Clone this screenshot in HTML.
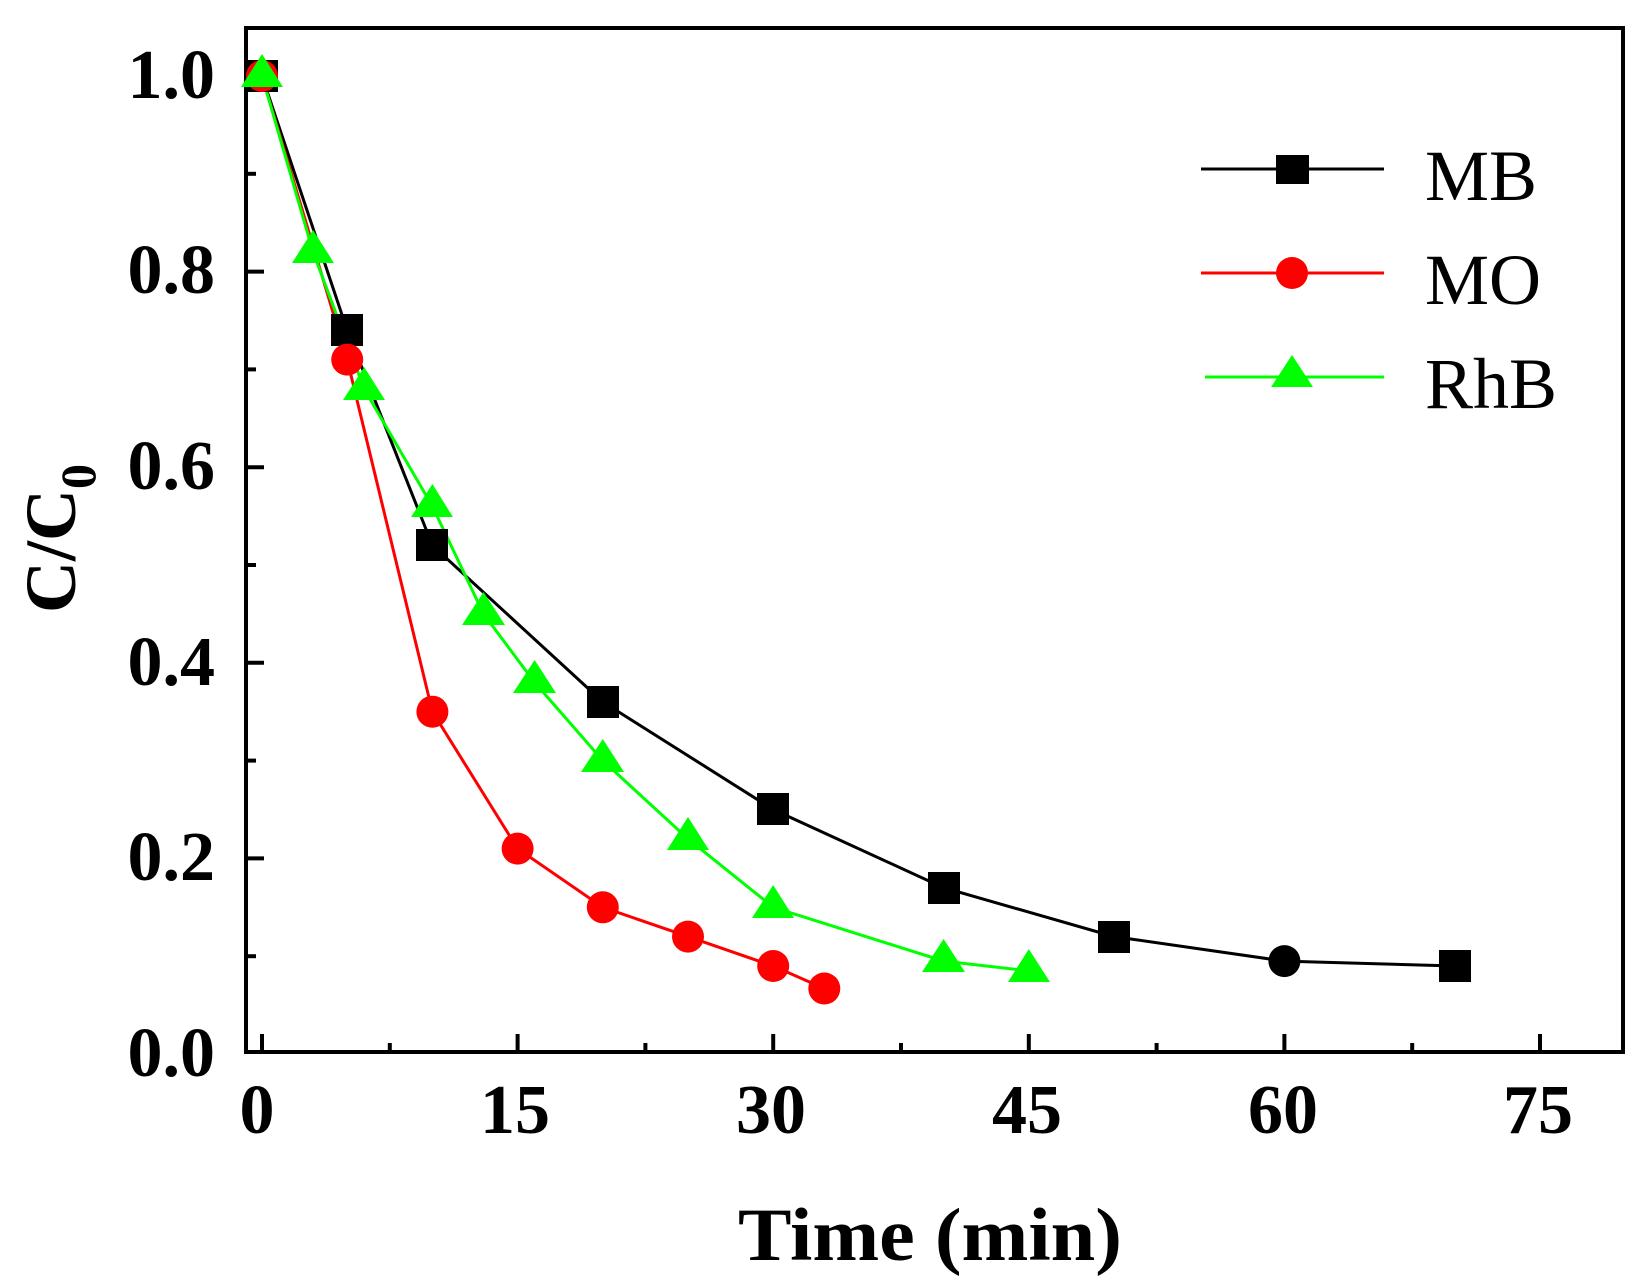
<!DOCTYPE html>
<html><head><meta charset="utf-8"><style>html,body{margin:0;padding:0;background:#fff;}svg{display:block}</style></head>
<body>
<svg width="1643" height="1288" viewBox="0 0 1643 1288" xmlns="http://www.w3.org/2000/svg">
<rect x="0" y="0" width="1643" height="1288" fill="#fff"/>
<rect x="246" y="28" width="1377" height="1024" fill="none" stroke="#000" stroke-width="4"/>
<g stroke="#000" stroke-width="4">
<line x1="262" y1="1052" x2="262" y2="1034"/><line x1="389.8" y1="1052" x2="389.8" y2="1043"/>
<line x1="517.6" y1="1052" x2="517.6" y2="1034"/><line x1="645.4" y1="1052" x2="645.4" y2="1043"/>
<line x1="773.2" y1="1052" x2="773.2" y2="1034"/><line x1="901" y1="1052" x2="901" y2="1043"/>
<line x1="1028.8" y1="1052" x2="1028.8" y2="1034"/><line x1="1156.6" y1="1052" x2="1156.6" y2="1043"/>
<line x1="1284.4" y1="1052" x2="1284.4" y2="1034"/><line x1="1412.2" y1="1052" x2="1412.2" y2="1043"/>
<line x1="1540" y1="1052" x2="1540" y2="1034"/>
<line x1="246" y1="858.4" x2="264" y2="858.4"/><line x1="246" y1="662.8" x2="264" y2="662.8"/>
<line x1="246" y1="467.2" x2="264" y2="467.2"/><line x1="246" y1="271.6" x2="264" y2="271.6"/>
<line x1="246" y1="76" x2="264" y2="76"/>
<line x1="246" y1="956.2" x2="256" y2="956.2"/><line x1="246" y1="760.6" x2="256" y2="760.6"/>
<line x1="246" y1="565" x2="256" y2="565"/><line x1="246" y1="369.4" x2="256" y2="369.4"/>
<line x1="246" y1="173.8" x2="256" y2="173.8"/>
</g>
<g font-family="Liberation Serif, serif" font-weight="bold" font-size="70" fill="#000">
<g text-anchor="end">
<text x="215" y="1076">0.0</text><text x="215" y="880">0.2</text><text x="215" y="685">0.4</text>
<text x="215" y="489">0.6</text><text x="215" y="293">0.8</text><text x="215" y="98">1.0</text>
</g>
<g text-anchor="middle">
<text x="257" y="1133">0</text><text x="515" y="1133">15</text><text x="771" y="1133">30</text>
<text x="1027" y="1133">45</text><text x="1283" y="1133">60</text><text x="1538" y="1133">75</text>
</g>
<text x="738" y="1260" font-size="75" textLength="384" lengthAdjust="spacingAndGlyphs">Time (min)</text>
<text transform="translate(75,613) rotate(-90)" font-size="72">C/C<tspan font-size="50" dy="20">0</tspan></text>
</g>
<!-- series -->
<polyline fill="none" stroke="#000" stroke-width="3" points="262,76 347.2,330.3 432.4,545.4 602.8,701.9 773.2,809.5 943.6,887.7 1114,936.6 1284.4,961.1 1454.8,966"/>
<polyline fill="none" stroke="#f00" stroke-width="3" points="262,76 347.2,359.6 432.4,711.7 517.6,848.6 602.8,907.3 688,936.6 773.2,966 824.3,988.5"/>
<polyline fill="none" stroke="#0f0" stroke-width="3" points="262,76 313.1,252 364.2,389 432.4,506.3 483.5,613.9 534.6,682.4 602.8,760.6 688,838.8 773.2,907.3 943.6,961.1 1028.8,970.9"/>
<g fill="#000">
<rect x="246" y="60" width="32" height="32"/><rect x="331" y="314" width="32" height="32"/>
<rect x="416" y="529" width="32" height="32"/><rect x="587" y="686" width="32" height="32"/>
<rect x="757" y="793" width="32" height="32"/><rect x="928" y="872" width="32" height="32"/>
<rect x="1098" y="921" width="32" height="32"/><circle cx="1284.4" cy="961.1" r="16"/>
<rect x="1439" y="950" width="32" height="32"/>
</g>
<g fill="#f00">
<circle cx="262" cy="76" r="16"/><circle cx="347.2" cy="359.6" r="16"/><circle cx="432.4" cy="711.7" r="16"/>
<circle cx="517.6" cy="848.6" r="16"/><circle cx="602.8" cy="907.3" r="16"/><circle cx="688" cy="936.6" r="16"/>
<circle cx="773.2" cy="966" r="16"/><circle cx="824.3" cy="988.5" r="16"/>
</g>
<g fill="#0f0">
<polygon points="262,54 241,87 283,87"/><polygon points="313.1,230 292,263 334,263"/>
<polygon points="364.2,367 343,400 385,400"/><polygon points="432.4,484 411,517 453,517"/>
<polygon points="483.5,592 462,625 505,625"/><polygon points="534.6,660 513,693 556,693"/>
<polygon points="602.8,739 581,772 624,772"/><polygon points="688,817 667,850 709,850"/>
<polygon points="773.2,885 752,918 794,918"/><polygon points="943.6,939 922,972 965,972"/>
<polygon points="1028.8,949 1008,982 1050,982"/>
</g>
<!-- legend -->
<line x1="1201" y1="169" x2="1384" y2="169" stroke="#000" stroke-width="3"/>
<rect x="1276" y="155" width="33" height="29" fill="#000"/>
<line x1="1201" y1="273" x2="1384" y2="273" stroke="#f00" stroke-width="3"/>
<circle cx="1292" cy="273" r="16" fill="#f00"/>
<line x1="1205" y1="377" x2="1384" y2="377" stroke="#0f0" stroke-width="3"/>
<polygon points="1292,355 1271,387 1313,387" fill="#0f0"/>
<g font-family="Liberation Serif, serif" font-size="72" fill="#000">
<text x="1425" y="200">MB</text><text x="1425" y="304">MO</text><text x="1425" y="408">RhB</text>
</g>
</svg>
</body></html>
